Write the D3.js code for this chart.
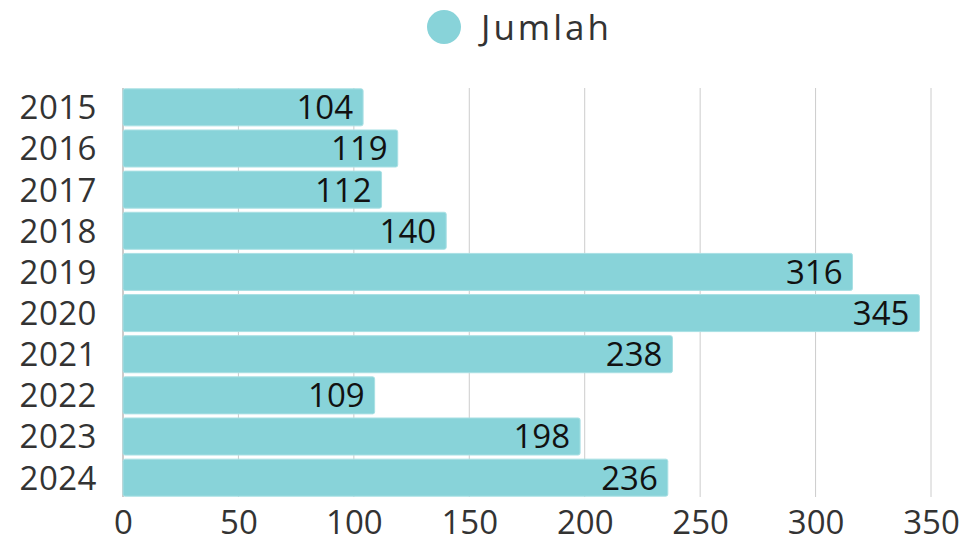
<!DOCTYPE html>
<html>
<head>
<meta charset="utf-8">
<script src="https://cdn.jsdelivr.net/npm/d3@7"></script>
<style>
  body { margin: 0; background: #fff; }
  text { font-family: "Open Sans", sans-serif; }
</style>
</head>
<body>
<div id="chart"></div>
<script>
// data
var years = ["2015", "2016", "2017", "2018", "2019", "2020", "2021", "2022", "2023", "2024"];
var jumlah = [104, 119, 112, 140, 316, 345, 238, 109, 198, 236];
var xTicks = [0, 50, 100, 150, 200, 250, 300, 350];
var seriesName = "Jumlah";

var W = 966, H = 544;
var margin = {top: 88, right: 35, bottom: 47, left: 123};
var width = W - margin.left - margin.right,
    height = H - margin.top - margin.bottom;

var svg = d3.select("#chart").append("svg")
    .attr("width", W)
    .attr("height", H);

var x = d3.scaleLinear().domain([0, 350]).range([0, width]);
var y = d3.scaleBand().domain(years).range([0, height]).paddingInner(0.1).paddingOuter(0.02);

var g = svg.append("g")
    .attr("transform", "translate(" + margin.left + "," + margin.top + ")");

// gridlines
g.selectAll(".grid")
  .data(xTicks)
  .enter().append("line")
    .attr("class", "grid")
    .attr("x1", function(d) { return x(d); })
    .attr("x2", function(d) { return x(d); })
    .attr("y1", 0)
    .attr("y2", height)
    .attr("stroke", function(d) { return d === 0 ? "#999" : "#cccccc"; })
    .attr("stroke-width", 1);

// bars
var rows = years.map(function(yr, i) { return {year: yr, value: jumlah[i]}; });

g.selectAll(".bar")
  .data(rows)
  .enter().append("rect")
    .attr("class", "bar")
    .attr("x", x(0))
    .attr("y", function(d) { return y(d.year); })
    .attr("width", function(d) { return x(d.value) - x(0); })
    .attr("height", y.bandwidth())
    .attr("rx", 2)
    .attr("fill", "#88d3d9")
    .attr("stroke", "#a9e0e4")
    .attr("stroke-width", 1);

// value labels
g.selectAll(".val")
  .data(rows)
  .enter().append("text")
    .attr("class", "val")
    .attr("x", function(d) { return x(d.value) - 10; })
    .attr("y", function(d) { return y(d.year) + y.bandwidth() / 2; })
    .attr("dy", "0.36em")
    .attr("text-anchor", "end")
    .attr("font-size", "33px")
    .attr("fill", "#111")
    .text(function(d) { return d.value; });

// y axis labels
var yAxis = d3.axisLeft(y).tickSize(0).tickPadding(26);
g.append("g")
    .attr("class", "axis axis--y")
    .call(yAxis)
    .call(function(s) { s.select(".domain").remove(); })
    .selectAll("text")
      .attr("font-size", "33px")
      .attr("letter-spacing", "0.5px")
      .attr("fill", "#333")
      .attr("dy", "0.36em");

// x axis labels
var xAxis = d3.axisBottom(x).tickValues(xTicks).tickSize(0).tickPadding(14);
g.append("g")
    .attr("class", "axis axis--x")
    .attr("transform", "translate(0," + height + ")")
    .call(xAxis)
    .call(function(s) { s.select(".domain").remove(); })
    .selectAll("text")
      .attr("font-size", "33px")
      .attr("fill", "#333");

// legend
var legend = svg.append("g").attr("transform", "translate(444,27)");
legend.append("circle")
    .attr("r", 17)
    .attr("fill", "#88d3d9");
legend.append("text")
    .attr("x", 37)
    .attr("dy", "0.36em")
    .attr("font-size", "35px")
    .attr("letter-spacing", "3px")
    .attr("fill", "#333")
    .text(seriesName);
</script>
</body>
</html>
